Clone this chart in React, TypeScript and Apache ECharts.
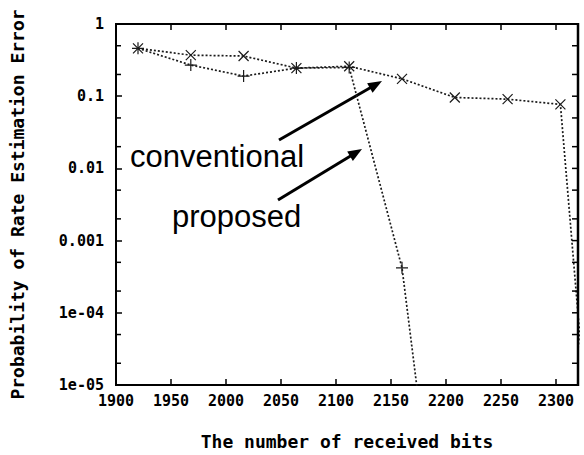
import React, { useEffect, useRef } from "react";
import * as echarts from "echarts";

// ---- data ----
const BITS = [1920, 1968, 2016, 2064, 2112, 2160, 2208, 2256, 2304];
const CONVENTIONAL = [0.46, 0.37, 0.36, 0.245, 0.26, 0.174, 0.096, 0.091, 0.077];
const PROPOSED = [0.46, 0.27, 0.19, 0.245, 0.25, 4.2e-4];
// next points after the last plotted ones (fall below the axis range)
const CONVENTIONAL_TAIL: [number, number] = [2352, 1.5e-10];
const PROPOSED_TAIL: [number, number] = [2208, 6e-10];

const X_MIN = 1900;
const X_MAX = 2320;
const X_INTERVAL = 50;
const Y_MIN = 1e-5;
const Y_MAX = 1;
const Y_TICK_LABELS = ["1", "0.1", "0.01", "0.001", "1e-04", "1e-05"];
const MAJOR_Y = [1e-5, 1e-4, 1e-3, 1e-2, 0.1, 1];
const MINOR_Y = [2e-5, 5e-5, 2e-4, 5e-4, 2e-3, 5e-3, 2e-2, 5e-2, 0.2, 0.5];

const MONO = "'DejaVu Sans Mono', 'Liberation Mono', monospace";
const SANS = "'Liberation Sans', Arial, Helvetica, sans-serif";
const INK = "#1a1a1a";

function arrow(x1: number, y1: number, x2: number, y2: number) {
  const dx = x2 - x1;
  const dy = y2 - y1;
  const len = Math.hypot(dx, dy);
  const ux = dx / len;
  const uy = dy / len;
  const px = -uy;
  const py = ux;
  const hl = 14;
  const hw = 5.5;
  const bx = x2 - ux * hl;
  const by = y2 - uy * hl;
  return [
    {
      type: "line",
      shape: { x1, y1, x2: bx + ux * 2, y2: by + uy * 2 },
      style: { stroke: "#000", lineWidth: 3 },
      silent: true,
    },
    {
      type: "polygon",
      shape: {
        points: [
          [x2, y2],
          [bx + px * hw, by + py * hw],
          [bx - px * hw, by - py * hw],
        ],
      },
      style: { fill: "#000" },
      silent: true,
    },
  ];
}

export default function App() {
  const ref = useRef<HTMLDivElement>(null);
  useEffect(() => {
    if (!ref.current) return;
    const chart = echarts.init(ref.current, null, { renderer: "svg" });

    const convData: any[] = BITS.map((b, i) => [b, CONVENTIONAL[i]]);
    convData.push({ value: CONVENTIONAL_TAIL, symbol: "none" });
    const propData: any[] = PROPOSED.map((v, i) => [BITS[i], v]);
    propData.push({ value: PROPOSED_TAIL, symbol: "none" });

    const axisLine = { show: true, lineStyle: { color: "#000", width: 2 } };
    const tick = { show: true, inside: true, length: 6, lineStyle: { color: "#000", width: 1.5 } };

    const yLabel = (v: number) => {
      const k = Math.round(-Math.log10(v));
      return Y_TICK_LABELS[k] ?? "";
    };

    // [x, y, kind]: kind 1 = major tick (right side mirror), 0 = minor tick, 2 = right frame edge
    const ticksY = [
      ...MAJOR_Y.map((v) => [X_MIN, v, 1]),
      ...MINOR_Y.map((v) => [X_MIN, v, 0]),
      [X_MAX, Y_MIN, 2],
    ];

    chart.setOption({
      animation: false,
      backgroundColor: "#fff",
      grid: {
        left: 116,
        right: 6,
        top: 24,
        bottom: 62,
        containLabel: false,
        show: true,
        borderColor: "#000",
        borderWidth: 2,
        backgroundColor: "transparent",
      },
      xAxis: [
        {
          type: "value",
          min: X_MIN,
          max: X_MAX,
          interval: X_INTERVAL,
          position: "bottom",
          axisLine,
          axisTick: tick,
          splitLine: { show: false },
          axisLabel: {
            margin: 8,
            color: "#000",
            fontFamily: MONO,
            fontWeight: 700,
            fontSize: 15,
            formatter: (v: number) => (v % X_INTERVAL === 0 ? String(v) : ""),
          },
          name: "The number of received bits",
          nameLocation: "middle",
          nameGap: 47,
          nameTextStyle: { color: "#000", fontFamily: MONO, fontWeight: 700, fontSize: 18 },
        },
        {
          type: "value",
          min: X_MIN,
          max: X_MAX,
          interval: X_INTERVAL,
          position: "top",
          axisLine,
          axisTick: tick,
          splitLine: { show: false },
          axisLabel: { show: false },
        },
      ],
      yAxis: [
        {
          type: "log",
          logBase: 10,
          min: Y_MIN,
          max: Y_MAX,
          position: "left",
          axisLine,
          axisTick: tick,
          minorTick: { show: false },
          splitLine: { show: false },
          axisLabel: {
            margin: 12,
            color: "#000",
            fontFamily: MONO,
            fontWeight: 700,
            fontSize: 15,
            formatter: yLabel,
          },
          name: "Probability of Rate Estimation Error",
          nameLocation: "middle",
          nameGap: 90,
          nameTextStyle: { color: "#000", fontFamily: MONO, fontWeight: 700, fontSize: 18 },
        },
      ],
      series: [
        {
          name: "conventional",
          type: "line",
          data: convData,
          symbol: "path://M0,0L10,10M10,0L0,10",
          symbolSize: 10,
          itemStyle: { color: INK, borderColor: INK, borderWidth: 1.2 },
          lineStyle: { color: INK, width: 1.7, type: [2, 2] },
          clip: true,
          z: 3,
        },
        {
          name: "proposed",
          type: "line",
          data: propData,
          symbol: "path://M5,0L5,10M0,5L10,5",
          symbolSize: 12,
          itemStyle: { color: INK, borderColor: INK, borderWidth: 1.2 },
          lineStyle: { color: INK, width: 1.7, type: [2, 2] },
          clip: true,
          z: 3,
        },
        {
          type: "custom",
          silent: true,
          clip: false,
          data: ticksY,
          renderItem: (_p: any, api: any) => {
            const v = api.value(1);
            const kind = api.value(2);
            if (kind === 2) {
              const b = api.coord([X_MAX, Y_MIN]);
              const t = api.coord([X_MAX, Y_MAX]);
              return {
                type: "line",
                shape: { x1: b[0], y1: b[1] + 1, x2: t[0], y2: t[1] - 1 },
                style: { stroke: "#000", lineWidth: 2.5 },
              };
            }
            const l = api.coord([X_MIN, v]);
            const r = api.coord([X_MAX, v]);
            const children: any[] = [
              {
                type: "line",
                shape: { x1: r[0], y1: r[1], x2: r[0] - 6, y2: r[1] },
                style: { stroke: "#000", lineWidth: 1.5 },
              },
            ];
            if (kind === 0) {
              children.push({
                type: "line",
                shape: { x1: l[0], y1: l[1], x2: l[0] + 5, y2: l[1] },
                style: { stroke: "#000", lineWidth: 1.5 },
              });
            }
            return { type: "group", children };
          },
          z: 4,
        },
      ],
      graphic: [
        ...arrow(279, 140, 382, 81),
        ...arrow(278, 200, 362, 149),
        {
          type: "text",
          silent: true,
          style: {
            text: "conventional",
            x: 130,
            y: 156,
            verticalAlign: "middle",
            font: `31px ${SANS}`,
            fill: "#000",
          },
        },
        {
          type: "text",
          silent: true,
          style: {
            text: "proposed",
            x: 172,
            y: 216,
            verticalAlign: "middle",
            font: `31px ${SANS}`,
            fill: "#000",
          },
        },
      ],
    });
    return () => chart.dispose();
  }, []);
  return (
    <div
      ref={ref}
      style={{ position: "fixed", left: 0, top: 0, width: 584, height: 455, background: "#fff" }}
    />
  );
}
